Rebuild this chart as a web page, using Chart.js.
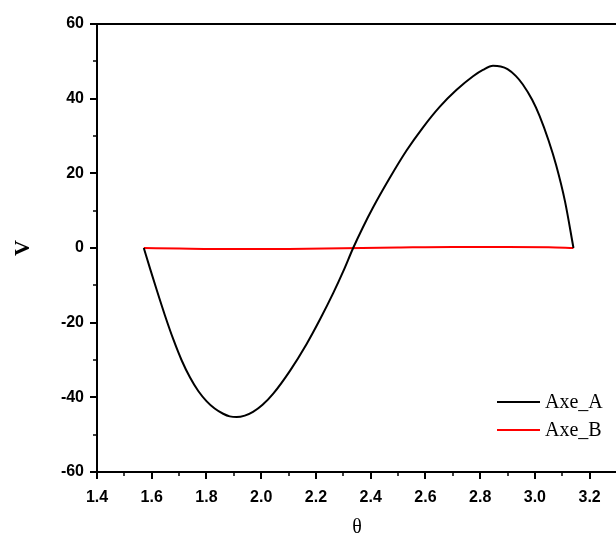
<!DOCTYPE html>
<html>
<head>
<meta charset="utf-8">
<script src="https://cdn.jsdelivr.net/npm/chart.js@4"></script>
<style>
  html, body { margin: 0; padding: 0; background: #ffffff; overflow: hidden; }
  #wrap { position: relative; width: 617px; height: 545px; }
</style>
</head>
<body>
<div id="wrap"><canvas id="c"></canvas></div>
<script>
// ---- data ----
const thetaA = [1.571, 1.595, 1.618, 1.648, 1.679, 1.710, 1.740, 1.770, 1.800, 1.830, 1.861, 1.885, 1.910, 1.940, 1.970, 2.005, 2.044, 2.105, 2.166, 2.215, 2.263, 2.300, 2.336, 2.370, 2.409, 2.470, 2.531, 2.590, 2.652, 2.713, 2.774, 2.810, 2.847, 2.875, 2.900, 2.930, 2.956, 2.990, 3.017, 3.050, 3.078, 3.110, 3.141];
const valuesA = [0, -5.8, -11.2, -18.0, -24.5, -30.2, -34.7, -38.3, -41.0, -43.0, -44.4, -45.1, -45.3, -44.9, -43.9, -42.0, -39.0, -32.9, -25.7, -19.1, -12.1, -6.2, 0, 5.3, 10.9, 18.8, 26.1, 32.2, 37.8, 42.3, 46.0, 47.7, 48.8, 48.6, 47.9, 46.1, 43.8, 39.7, 35.4, 28.8, 22.1, 12.5, 0];
const thetaB = [1.571, 1.700, 1.900, 2.100, 2.300, 2.500, 2.700, 2.900, 3.050, 3.141];
const valuesB = [0, -0.15, -0.3, -0.25, -0.05, 0.15, 0.3, 0.3, 0.2, 0];
const seriesNames = ['Axe_A', 'Axe_B'];
const xTickLabels = ['1.4', '1.6', '1.8', '2.0', '2.2', '2.4', '2.6', '2.8', '3.0', '3.2'];
const xMinorTicks = ['1.5', '1.7', '1.9', '2.1', '2.3', '2.5', '2.7', '2.9', '3.1'];
const yTickLabels = ['-60', '-40', '-20', '0', '20', '40', '60'];
const yMinorTicks = ['-50', '-30', '-10', '10', '30', '50'];
const xTitle = 'θ';
const yTitle = 'V';

const toPts = (xs, ys) => xs.map((x, i) => ({ x: x, y: ys[i] }));

const framePlugin = {
  id: 'frame',
  afterDraw(chart) {
    const ctx = chart.ctx;
    const ca = chart.chartArea;
    const xs = chart.scales.x, ys = chart.scales.y;
    ctx.save();
    ctx.strokeStyle = '#000';
    ctx.lineWidth = 2;
    // top frame line
    ctx.beginPath();
    ctx.moveTo(ca.left - 1, ca.top);
    ctx.lineTo(chart.width, ca.top);
    ctx.stroke();
    // minor ticks
    ctx.lineWidth = 1.5;
    xMinorTicks.forEach(t => {
      const px = Math.round(xs.getPixelForValue(parseFloat(t)));
      ctx.beginPath();
      ctx.moveTo(px, ca.bottom);
      ctx.lineTo(px, ca.bottom + 4);
      ctx.stroke();
    });
    yMinorTicks.forEach(t => {
      const py = Math.round(ys.getPixelForValue(parseFloat(t)));
      ctx.beginPath();
      ctx.moveTo(ca.left, py);
      ctx.lineTo(ca.left - 4, py);
      ctx.stroke();
    });
    // legend
    ctx.font = '20px "Liberation Serif", "Times New Roman", serif';
    ctx.textBaseline = 'middle';
    ctx.textAlign = 'left';
    chart.data.datasets.forEach((ds, i) => {
      const y = ca.bottom - 70 + i * 28;
      const x0 = ca.right - 120;
      ctx.strokeStyle = ds.borderColor;
      ctx.lineWidth = 2;
      ctx.beginPath();
      ctx.moveTo(x0, y);
      ctx.lineTo(x0 + 43, y);
      ctx.stroke();
      ctx.fillStyle = '#000';
      ctx.fillText(ds.label, x0 + 48, y + 1);
    });
    ctx.restore();
  }
};

new Chart(document.getElementById('c'), {
  type: 'line',
  data: {
    datasets: [
      { label: seriesNames[0], data: toPts(thetaA, valuesA), borderColor: '#000000', borderWidth: 2, pointRadius: 0, cubicInterpolationMode: 'monotone', fill: false },
      { label: seriesNames[1], data: toPts(thetaB, valuesB), borderColor: '#ff0000', borderWidth: 2, pointRadius: 0, cubicInterpolationMode: 'monotone', fill: false }
    ]
  },
  options: {
    responsive: true,
    maintainAspectRatio: false,
    animation: false,
    layout: { padding: { top: 24, right: 0, left: 0, bottom: 0 } },
    plugins: { legend: { display: false }, tooltip: { enabled: false } },
    scales: {
      x: {
        type: 'linear',
        min: 1.4,
        max: 3.3,
        afterFit(s) { s.height = 73; },
        afterBuildTicks(s) { s.ticks = xTickLabels.map(v => ({ value: parseFloat(v) })); },
        grid: { display: true, drawOnChartArea: false, drawTicks: true, tickLength: 7, color: '#000', lineWidth: 2 },
        border: { display: true, color: '#000', width: 2 },
        ticks: {
          padding: 9,
          color: '#000',
          font: { family: '"Liberation Sans", Arial, sans-serif', size: 16, weight: 'bold' },
          callback: (v) => v.toFixed(1),
          maxRotation: 0,
          autoSkip: false
        },
        title: { display: true, text: xTitle, color: '#000', font: { family: '"Liberation Serif", "Times New Roman", serif', size: 20 }, padding: { bottom: 5, top: 0 } }
      },
      y: {
        type: 'linear',
        min: -60,
        max: 60,
        afterFit(s) { s.width = 97; },
        afterBuildTicks(s) { s.ticks = yTickLabels.map(v => ({ value: parseFloat(v) })); },
        grid: { display: true, drawOnChartArea: false, drawTicks: true, tickLength: 7, color: '#000', lineWidth: 2 },
        border: { display: true, color: '#000', width: 2 },
        ticks: {
          padding: 6,
          color: '#000',
          font: { family: '"Liberation Sans", Arial, sans-serif', size: 16, weight: 'bold' },
          callback: (v) => String(v),
          autoSkip: false
        },
        title: { display: true, text: yTitle, color: '#000', font: { family: '"Liberation Serif", "Times New Roman", serif', size: 22, weight: 'bold' }, padding: { top: 10, bottom: 0 } }
      }
    }
  },
  plugins: [framePlugin]
});
</script>
</body>
</html>
